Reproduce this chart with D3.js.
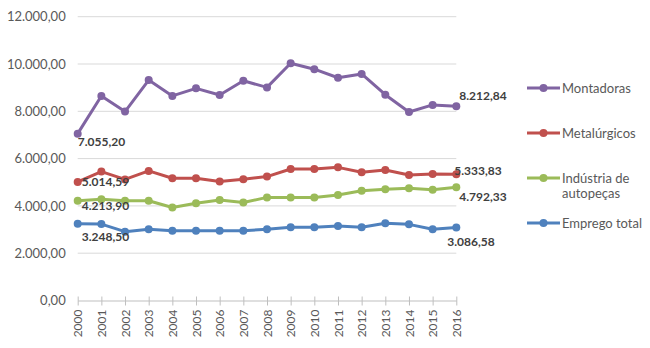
<!DOCTYPE html>
<html>
<head>
<meta charset="utf-8">
<script src="https://cdn.jsdelivr.net/npm/d3@7"></script>
<style>
  html, body { margin: 0; padding: 0; background: #fff; }
  svg { display: block; font-family: Lato, "Open Sans", sans-serif; }
</style>
</head>
<body>
<svg id="chart" width="650" height="348"></svg>
<script>
// line chart: employment index by sector, 2000-2016 (Excel-like styling)
const years = d3.range(2000, 2017).map(String);
const yTicks = [0, 2000, 4000, 6000, 8000, 10000, 12000];

const montadoras   = [7055.20, 8650, 7990, 9320, 8650, 8970, 8690, 9290, 9010, 10030, 9780, 9420, 9580, 8700, 7970, 8270, 8212.84];
const metalurgicos = [5014.59, 5450, 5120, 5480, 5170, 5170, 5030, 5130, 5240, 5560, 5560, 5630, 5420, 5520, 5310, 5350, 5333.83];
const autopecas    = [4213.90, 4280, 4220, 4220, 3930, 4110, 4250, 4140, 4360, 4360, 4360, 4460, 4640, 4700, 4750, 4680, 4792.33];
const emprego      = [3248.50, 3230, 2910, 3010, 2950, 2950, 2950, 2950, 3010, 3100, 3100, 3150, 3100, 3265, 3220, 3010, 3086.58];

const seriesNames = ["Montadoras", "Metalúrgicos", "Indústria de|autopeças", "Emprego total"];
const seriesColors = ["#8064A2", "#C0504D", "#9BBB59", "#4F81BD"];
const seriesValues = [montadoras, metalurgicos, autopecas, emprego];

const fmt = d3.formatLocale({ decimal: ",", thousands: ".", grouping: [3], currency: ["", ""] }).format(",.2f");

const svg = d3.select("#chart");
const x = d3.scalePoint().domain(years).range([77.7, 456.3]);
const y = d3.scaleLinear().domain([0, 12000]).range([300.5, 16.7]);

// gridlines
svg.append("g")
  .selectAll("line").data(yTicks.filter((d) => d > 0)).join("line")
  .attr("x1", 77.7).attr("x2", 456.3)
  .attr("y1", (d) => y(d)).attr("y2", (d) => y(d))
  .attr("stroke", "#d9d9d9").attr("stroke-width", 1);

// y axis labels
const yAxis = svg.append("g").attr("transform", "translate(77.7,0)")
  .call(d3.axisLeft(y).tickValues(yTicks).tickFormat(fmt).tickSize(0).tickPadding(12));
yAxis.select(".domain").remove();
yAxis.selectAll("text").attr("fill", "#595959").style("font-size", "13px").style("font-family", "Lato, sans-serif");

// x axis
const xAxis = svg.append("g").attr("transform", `translate(0,${y(0)})`)
  .call(d3.axisBottom(x).tickSize(5).tickSizeOuter(0).tickPadding(6));
xAxis.select(".domain").attr("stroke", "#bfbfbf");
xAxis.selectAll(".tick line").attr("stroke", "#bfbfbf").attr("y1", -4);
xAxis.selectAll("text")
  .attr("fill", "#595959").style("font-size", "12px").style("font-family", "Lato, sans-serif")
  .attr("transform", "rotate(-90)")
  .attr("text-anchor", "end").attr("dy", "0.35em").attr("x", -9).attr("y", 0);

// series
const line = d3.line().x((d, i) => x(years[i])).y((d) => y(d));
seriesValues.forEach((vals, k) => {
  const g = svg.append("g");
  g.append("path").datum(vals)
    .attr("d", line).attr("fill", "none")
    .attr("stroke", seriesColors[k]).attr("stroke-width", 3).attr("stroke-linejoin", "round");
  g.selectAll("circle").data(vals).join("circle")
    .attr("cx", (d, i) => x(years[i])).attr("cy", (d) => y(d))
    .attr("r", 4).attr("fill", seriesColors[k]);
});

// data labels (first and last points)
const firstOff = [[0, 8], [4, 0], [4, 5], [4, 13]];
const lastOff = [[3, -10], [-2, -4], [3, 10], [-9, 14]];
const labels = svg.append("g").attr("fill", "#404040").style("font-size", "12px").style("font-weight", "bold");
seriesValues.forEach((vals, k) => {
  const n = vals.length - 1;
  labels.append("text")
    .attr("x", x(years[0]) + firstOff[k][0]).attr("y", y(vals[0]) + firstOff[k][1])
    .attr("dy", "0.35em").text(fmt(vals[0]));
  labels.append("text")
    .attr("x", x(years[n]) + lastOff[k][0]).attr("y", y(vals[n]) + lastOff[k][1])
    .attr("dy", "0.35em").text(fmt(vals[n]));
});

// legend
const legendY = [88, 133, 178, 223];
const legend = svg.append("g");
seriesNames.forEach((name, k) => {
  const g = legend.append("g").attr("transform", `translate(527,${legendY[k]})`);
  g.append("line").attr("x1", 0).attr("x2", 33).attr("stroke", seriesColors[k]).attr("stroke-width", 3);
  g.append("circle").attr("cx", 16.5).attr("r", 4).attr("fill", seriesColors[k]);
  const t = g.append("text").attr("x", 35).attr("fill", "#595959").style("font-size", "13px");
  name.split("|").forEach((part, j) => {
    t.append("tspan").attr("x", 35).attr("dy", j === 0 ? "0.35em" : "15px").text(part);
  });
});
</script>
</body>
</html>
